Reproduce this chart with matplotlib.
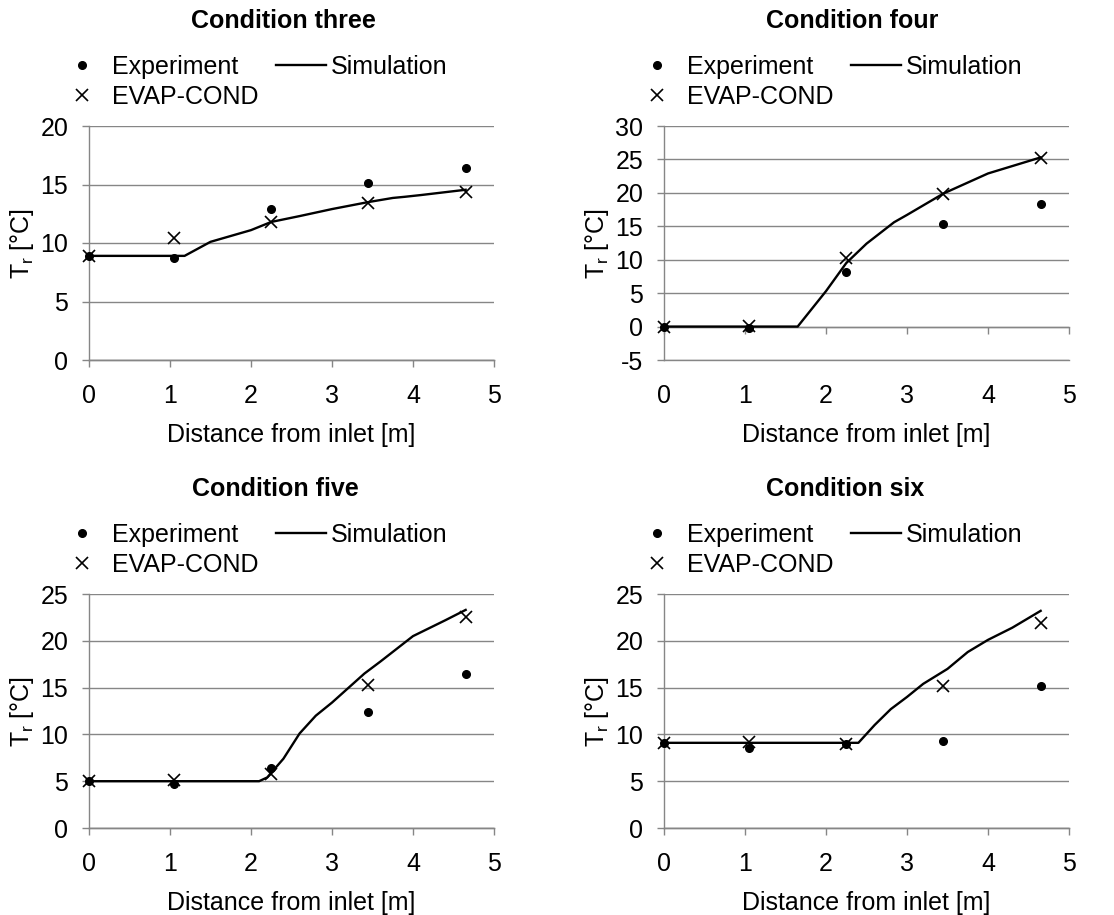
import numpy as np
import matplotlib
matplotlib.use("Agg")
import matplotlib.pyplot as plt

plt.rcParams["font.family"] = ["Liberation Sans", "DejaVu Sans"]
plt.rcParams["font.size"] = 18
plt.rcParams["axes.unicode_minus"] = False

# x positions of the measuring points (m)
listX = [0, 1.05, 2.25, 3.45, 4.65]

listTitles = ["Condition three", "Condition four", "Condition five", "Condition six"]

# Experiment
listExp = [
    [8.9, 8.7, 12.9, 15.1, 16.4],
    [0.0, -0.2, 8.2, 15.3, 18.4],
    [5.0, 4.7, 6.4, 12.4, 16.5],
    [9.1, 8.6, 9.0, 9.3, 15.2],
]

# EVAP-COND
listEvap = [
    [8.9, 10.4, 11.8, 13.4, 14.4],
    [0.0, 0.1, 10.3, 19.9, 25.2],
    [5.0, 5.1, 5.8, 15.3, 22.5],
    [9.1, 9.2, 9.0, 15.2, 21.9],
]

# Simulation
listSimX = [
    [0, 1.18, 1.5, 2.0, 2.25, 2.6, 3.0, 3.45, 3.75, 3.9, 4.1, 4.65],
    [0, 1.65, 2.0, 2.25, 2.5, 2.84, 3.0, 3.45, 4.0, 4.65],
    [0, 2.1, 2.2, 2.4, 2.6, 2.8, 3.0, 3.4, 3.6, 4.0, 4.4, 4.65],
    [0, 2.4, 2.6, 2.8, 3.0, 3.2, 3.5, 3.75, 4.0, 4.3, 4.65],
]
listSimY = [
    [8.9, 8.9, 10.1, 11.1, 11.8, 12.3, 12.9, 13.5, 13.85, 13.95, 14.1, 14.55],
    [0, 0, 5.3, 9.5, 12.4, 15.6, 16.7, 19.9, 22.9, 25.3],
    [5.0, 5.0, 5.4, 7.4, 10.1, 12.0, 13.4, 16.5, 17.8, 20.5, 22.2, 23.3],
    [9.1, 9.1, 11.0, 12.7, 14.0, 15.4, 17.0, 18.8, 20.1, 21.4, 23.2],
]

listYLim = [(0, 20), (-5, 30), (0, 25), (0, 25)]

W, H = 1114, 915
strGray = "#868686"

fig = plt.figure(figsize=(W / 100, H / 100), dpi=100)

# axes boxes in pixels: left, top
listBox = [(89, 126), (664, 126), (89, 594), (664, 594)]
nAxW, nAxH = 405, 234
listTitleX = [283, 852, 275, 845]

for i in range(4):
    nLeft, nTop = listBox[i]
    ax = fig.add_axes([nLeft / W, 1 - (nTop + nAxH) / H, nAxW / W, nAxH / H])
    yMin, yMax = listYLim[i]

    ax.plot(listSimX[i], listSimY[i], color="black", lw=1.7, label="Simulation", zorder=3)
    ax.plot(listX, listExp[i], ls="none", marker="o", ms=5.5, color="black",
            label="Experiment", zorder=4, clip_on=False)
    ax.plot(listX, listEvap[i], ls="none", marker="x", ms=8, mew=1.2, color="black",
            label="EVAP-COND", zorder=4, clip_on=False)

    ax.set_xlim(0, 5)
    ax.set_ylim(yMin, yMax)
    ax.set_xticks(np.arange(0, 6, 1))
    ax.set_yticks(np.arange(yMin, yMax + 1, 5))
    ax.yaxis.grid(True, color=strGray, lw=1.0)
    ax.set_axisbelow(True)

    for s in ["top", "right"]:
        ax.spines[s].set_visible(False)
    for s in ["left", "bottom"]:
        ax.spines[s].set_color(strGray)
        ax.spines[s].set_linewidth(1.0)

    ax.tick_params(axis="y", direction="out", length=5, width=1.0, color=strGray, pad=10)
    ax.tick_params(axis="x", length=0, pad=17)

    # x axis line crossing at y = 0 with tick marks, labels stay at the bottom
    fCross = (0 - yMin) / (yMax - yMin)
    secX = ax.secondary_xaxis(fCross)
    secX.set_xticks(np.arange(0, 6, 1))
    secX.tick_params(direction="out", length=5, width=1.0, color=strGray, labelbottom=False)
    secX.spines["bottom"].set_color(strGray)
    secX.spines["bottom"].set_linewidth(1.0)

    ax.set_xlabel("Distance from inlet [m]", labelpad=11)
    ax.set_ylabel("T$_\\mathregular{r}$ [°C]", labelpad=3)

    fTitleX = (listTitleX[i] - nLeft) / nAxW
    ax.text(fTitleX, 1 + 105 / nAxH, listTitles[i], transform=ax.transAxes,
            ha="center", va="center", fontweight="bold")

    hSim, hExp, hEvap = ax.get_lines()[:3]
    ax.legend([hExp, hEvap, hSim], ["Experiment", "EVAP-COND", "Simulation"],
              ncol=2, loc="lower left", bbox_to_anchor=(-0.08, 1.072),
              frameon=False, borderpad=0, borderaxespad=0,
              handlelength=2.0, handletextpad=0.2, columnspacing=0.7,
              labelspacing=0.25)

fig.savefig("out.png", dpi=100)
